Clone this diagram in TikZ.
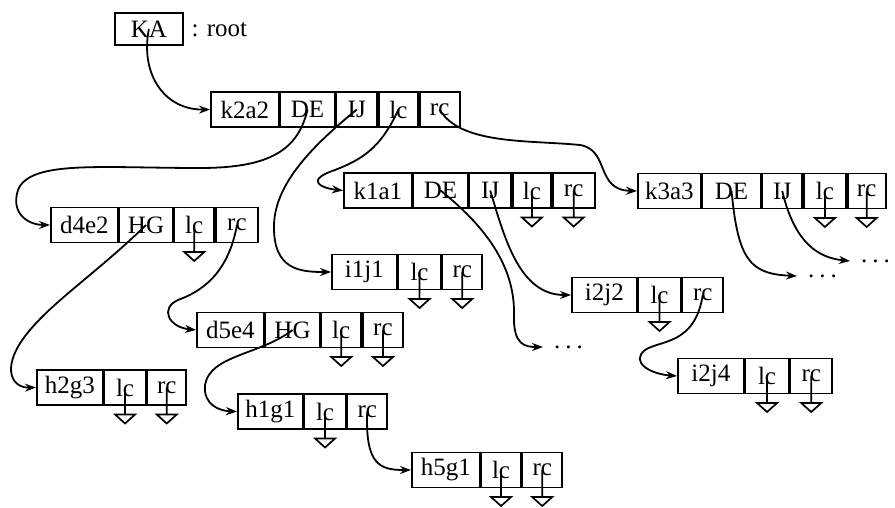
\documentclass[tikz,border=0pt]{standalone}
\usepackage{fontspec}
\setmainfont{Liberation Serif}
\usetikzlibrary{arrows.meta,positioning}
\tikzset{
  cell/.style={draw, line width=1.7pt, minimum height=35pt, inner sep=0pt,
    anchor=west, font=\fontsize{25}{28}\selectfont},
  ptr/.style={line width=1.8pt, -{Stealth[length=11pt,width=8pt]}},
  more/.style={anchor=west, inner xsep=11pt, inner ysep=0pt, text height=3pt,
    text depth=0pt, font=\fontsize{25}{28}\selectfont},
}
\newcommand{\nilptr}[1]{\draw[line width=1.7pt] (#1.center) -- ++(0,27) ++(-10,0) -- ++(20,0) -- ++(-10,9) -- cycle;}
\begin{document}
\begin{tikzpicture}[x=1pt,y=-1pt]
  \useasboundingbox (0,0) rectangle (895,508);
  % root
  \node[cell, minimum width=68, minimum height=32] (ka) at (114,29) {KA};
  \node[anchor=base west, font=\fontsize{25}{28}\selectfont] (rootlbl) at (188,37) {: root};
  % level 1
  \node[cell, minimum width=68] (k2a2) at (210,109.5) {k2a2};
  \node[cell, minimum width=54, right=0pt of k2a2] (k2a2-de) {DE};
  \node[cell, minimum width=41, right=0pt of k2a2-de] (k2a2-ij) {IJ};
  \node[cell, minimum width=39, right=0pt of k2a2-ij] (k2a2-lc) {lc};
  \node[cell, minimum width=40, right=0pt of k2a2-lc] (k2a2-rc) {rc};
  % level 2
  \node[cell, minimum width=67] (d4e2) at (50,225) {d4e2};
  \node[cell, minimum width=53, right=0pt of d4e2] (d4e2-hg) {HG};
  \node[cell, minimum width=40, right=0pt of d4e2-hg] (d4e2-lc) {lc};
  \node[cell, minimum width=42, right=0pt of d4e2-lc] (d4e2-rc) {rc};
  \node[cell, minimum width=68] (k1a1) at (343,190.5) {k1a1};
  \node[cell, minimum width=54, right=0pt of k1a1] (k1a1-de) {DE};
  \node[cell, minimum width=42, right=0pt of k1a1-de] (k1a1-ij) {IJ};
  \node[cell, minimum width=38, right=0pt of k1a1-ij] (k1a1-lc) {lc};
  \node[cell, minimum width=42, right=0pt of k1a1-lc] (k1a1-rc) {rc};
  \node[cell, minimum width=65] (i1j1) at (331,272) {i1j1};
  \node[cell, minimum width=42, right=0pt of i1j1] (i1j1-lc) {lc};
  \node[cell, minimum width=40, right=0pt of i1j1-lc] (i1j1-rc) {rc};
  \node[cell, minimum width=63] (k3a3) at (637,191) {k3a3};
  \node[cell, minimum width=58, right=0pt of k3a3] (k3a3-de) {DE};
  \node[cell, minimum width=40, right=0pt of k3a3-de] (k3a3-ij) {IJ};
  \node[cell, minimum width=42, right=0pt of k3a3-ij] (k3a3-lc) {lc};
  \node[cell, minimum width=38, right=0pt of k3a3-lc] (k3a3-rc) {rc};
  % level 3
  \node[cell, minimum width=65] (i2j2) at (571,295) {i2j2};
  \node[cell, minimum width=42, right=0pt of i2j2] (i2j2-lc) {lc};
  \node[cell, minimum width=41, right=0pt of i2j2-lc] (i2j2-rc) {rc};
  \node[cell, minimum width=66] (i2j4) at (677,376) {i2j4};
  \node[cell, minimum width=43, right=0pt of i2j4] (i2j4-lc) {lc};
  \node[cell, minimum width=42, right=0pt of i2j4-lc] (i2j4-rc) {rc};
  \node[cell, minimum width=67] (d5e4) at (196,330) {d5e4};
  \node[cell, minimum width=54, right=0pt of d5e4] (d5e4-hg) {HG};
  \node[cell, minimum width=40, right=0pt of d5e4-hg] (d5e4-lc) {lc};
  \node[cell, minimum width=40, right=0pt of d5e4-lc] (d5e4-rc) {rc};
  \node[cell, minimum width=66] (h2g3) at (36,387.5) {h2g3};
  \node[cell, minimum width=41, right=0pt of h2g3] (h2g3-lc) {lc};
  \node[cell, minimum width=39, right=0pt of h2g3-lc] (h2g3-rc) {rc};
  \node[cell, minimum width=65] (h1g1) at (237,411.5) {h1g1};
  \node[cell, minimum width=41, right=0pt of h1g1] (h1g1-lc) {lc};
  \node[cell, minimum width=40, right=0pt of h1g1-lc] (h1g1-rc) {rc};
  \node[cell, minimum width=68] (h5g1) at (411,470) {h5g1};
  \node[cell, minimum width=39, right=0pt of h5g1] (h5g1-lc) {lc};
  \node[cell, minimum width=40, right=0pt of h5g1-lc] (h5g1-rc) {rc};
  % unexpanded subtrees
  \node[more] (more1) at (543,347) {.\hspace{5pt}.\hspace{5pt}.};
  \node[more] (more2) at (797,276) {.\hspace{5pt}.\hspace{5pt}.};
  \node[more] (more3) at (850,261) {.\hspace{5pt}.\hspace{5pt}.};
  % nil pointers
  \nilptr{d4e2-lc}
  \nilptr{k1a1-lc} \nilptr{k1a1-rc}
  \nilptr{i1j1-lc} \nilptr{i1j1-rc}
  \nilptr{k3a3-lc} \nilptr{k3a3-rc}
  \nilptr{i2j2-lc}
  \nilptr{i2j4-lc} \nilptr{i2j4-rc}
  \nilptr{d5e4-lc} \nilptr{d5e4-rc}
  \nilptr{h2g3-lc} \nilptr{h2g3-rc}
  \nilptr{h1g1-lc}
  \nilptr{h5g1-lc} \nilptr{h5g1-rc}
  % pointers
  \draw[ptr] (ka.center) .. controls (140,75) and (165,110) .. (k2a2.west);
  \draw[ptr] (k2a2-de.center) .. controls (298,150) and (270,168) .. (200,168)
    .. controls (100,168) and (30,160) .. (18,190)
    .. controls (10,215) and (30,225) .. (d4e2.west);
  \draw[ptr] (k2a2-ij.center) .. controls (320,140) and (275,180) .. (274,225)
    .. controls (273,270) and (300,272) .. (i1j1.west);
  \draw[ptr] (k2a2-lc.center) .. controls (380,150) and (360,160) .. (335,170)
    .. controls (305,180) and (320,188) .. (k1a1.west);
  \draw[ptr] (k2a2-rc.center) .. controls (460,145) and (530,140) .. (580,145)
    .. controls (610,150) and (595,190) .. (k3a3.west);
  \draw[ptr] (k1a1-de.center) .. controls (490,230) and (515,270) .. (514,315)
    .. controls (513,345) and (525,347) .. (more1.west);
  \draw[ptr] (k1a1-ij.center) .. controls (505,240) and (520,295) .. (i2j2.west);
  \draw[ptr] (d4e2-hg.center) .. controls (100,270) and (55,300) .. (30,330)
    .. controls (0,365) and (10,388) .. (h2g3.west);
  \draw[ptr] (d4e2-rc.center) .. controls (228,275) and (200,292) .. (178,300)
    .. controls (160,308) and (168,327) .. (d5e4.west);
  \draw[ptr] (d5e4-hg.center) .. controls (260,355) and (210,355) .. (205,385)
    .. controls (203,405) and (220,411) .. (h1g1.west);
  \draw[ptr] (h1g1-rc.center) .. controls (365,465) and (380,470) .. (h5g1.west);
  \draw[ptr] (i2j2-rc.center) .. controls (695,345) and (660,340) .. (645,350)
    .. controls (630,362) and (650,374) .. (i2j4.west);
  \draw[ptr] (k3a3-de.center) .. controls (738,260) and (750,274) .. (more2.west);
  \draw[ptr] (k3a3-ij.center) .. controls (795,245) and (820,258) .. (more3.west);
\end{tikzpicture}
\end{document}
